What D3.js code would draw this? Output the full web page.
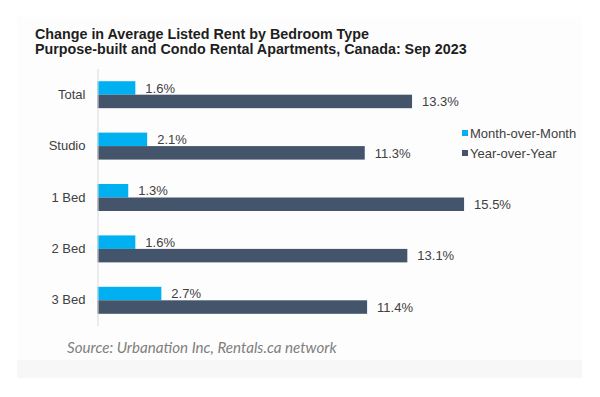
<!DOCTYPE html>
<html><head><meta charset="utf-8">
<script src="https://cdn.jsdelivr.net/npm/d3@7"></script>
<style>body{margin:0;background:#fff;}svg{display:block;}</style>
</head><body>
<script>
const categories = ["Total", "Studio", "1 Bed", "2 Bed", "3 Bed"];
const momValues = [1.6, 2.1, 1.3, 1.6, 2.7];
const yoyValues = [13.3, 11.3, 15.5, 13.1, 11.4];
const seriesNames = ["Month-over-Month", "Year-over-Year"];
const titleLines = ["Change in Average Listed Rent by Bedroom Type",
                    "Purpose-built and Condo Rental Apartments, Canada: Sep 2023"];
const sourceText = "Source: Urbanation Inc, Rentals.ca network";

const W = 600, H = 397;
const colors = ["#00B0F0", "#44546A"];
const svg = d3.select("body").append("svg").attr("width", W).attr("height", H);

// panel background
svg.append("rect").attr("x", 17).attr("y", 17).attr("width", 565).attr("height", 343).attr("fill", "#fdfdfd");
svg.append("rect").attr("x", 17).attr("y", 360).attr("width", 565).attr("height", 18).attr("fill", "#f7f7f7");

// title
const titles = svg.append("g").selectAll("text").data(titleLines).join("text")
  .attr("x", 35).attr("y", (d, i) => 39 + i * 14.5)
  .attr("font-family", "Liberation Sans, Arial, sans-serif")
  .attr("font-weight", "bold").attr("font-size", 14).attr("fill", "#1e1e1e")
  .text(d => d);
const tLen = titles.nodes()[1].getComputedTextLength();
titles.attr("font-size", 14 * 432 / tLen);

const x = d3.scaleLinear().domain([0, 16]).range([97.5, 97.5 + 16 * 23.65]);
const y = d3.scaleBand().domain(categories).range([69, 326]).paddingInner(0.475).paddingOuter(0.2375);
const ySub = d3.scaleBand().domain(seriesNames).range([0, y.bandwidth()]);

const rows = categories.map((c, i) => ({cat: c, vals: [momValues[i], yoyValues[i]]}));

const g = svg.append("g");
const grp = g.selectAll("g.cat").data(rows).join("g").attr("class", "cat")
  .attr("transform", d => `translate(0,${y(d.cat)})`);

grp.selectAll("rect").data(d => d.vals.map((v, j) => ({v, s: seriesNames[j], j})))
  .join("rect")
  .attr("x", x(0)).attr("y", d => ySub(d.s))
  .attr("width", d => x(d.v) - x(0)).attr("height", ySub.bandwidth())
  .attr("fill", d => colors[d.j]);

grp.selectAll("text.val").data(d => d.vals.map((v, j) => ({v, s: seriesNames[j], j})))
  .join("text").attr("class", "val")
  .attr("x", d => x(d.v) + 10).attr("y", d => ySub(d.s) + ySub.bandwidth() / 2)
  .attr("dy", "0.36em")
  .attr("font-family", "Liberation Sans, Arial, sans-serif").attr("font-size", 13)
  .attr("fill", "#404040")
  .text(d => d.v.toFixed(1) + "%");

// category axis
const yAxis = d3.axisLeft(y).tickSize(0).tickPadding(12);
const ax = svg.append("g").attr("transform", `translate(${x(0)},0)`).call(yAxis);
ax.select(".domain").attr("stroke", "#d9d9d9").attr("d", "M0.5,69V326");
ax.selectAll("text").attr("font-family", "Liberation Sans, Arial, sans-serif")
  .attr("font-size", 13).attr("fill", "#404040");

// legend
const leg = svg.append("g").selectAll("g").data(seriesNames).join("g")
  .attr("transform", (d, i) => `translate(462,${133 + i * 20})`);
leg.append("rect").attr("x", 0).attr("y", -3).attr("width", 6).attr("height", 6)
  .attr("fill", (d, i) => colors[i]);
leg.append("text").attr("x", 8).attr("y", 0).attr("dy", "0.36em")
  .attr("font-family", "Liberation Sans, Arial, sans-serif").attr("font-size", 13)
  .attr("fill", "#404040").text(d => d);

// source
const src = svg.append("text").attr("x", 67).attr("y", 352.7)
  .attr("font-family", "Lato, sans-serif").attr("font-style", "italic")
  .attr("font-size", 14).attr("fill", "#7f7f7f").text(sourceText);
const len = src.node().getComputedTextLength();
src.attr("font-size", 14 * 270 / len);
</script>
</body></html>
